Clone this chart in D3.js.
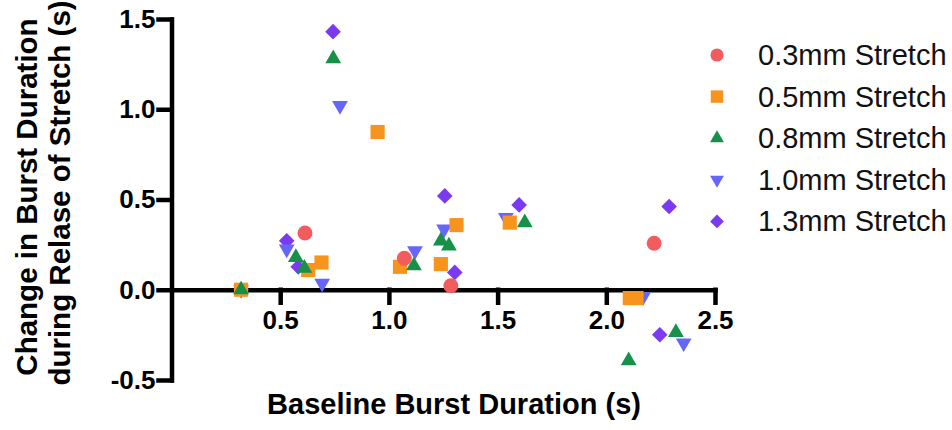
<!DOCTYPE html>
<html>
<head>
<meta charset="utf-8">
<script src="https://cdn.jsdelivr.net/npm/d3@7"></script>
<style>
  html, body { margin: 0; padding: 0; background: #ffffff; }
  svg { display: block; }
</style>
</head>
<body>
<svg id="chart" width="952" height="430"></svg>
<script>
// ---- Data ----
const seriesNames = ["0.3mm Stretch", "0.5mm Stretch", "0.8mm Stretch", "1.0mm Stretch", "1.3mm Stretch"];
const seriesColors = ["#F25C5E", "#F7941E", "#17904A", "#6666FA", "#7B3AF0"];
const seriesShapes = ["circle", "square", "triangle", "triangleDown", "diamond"];

const s03x = [0.614, 1.071, 1.285, 2.220];
const s03y = [0.314, 0.175, 0.022, 0.258];

const s05x = [0.320, 0.948, 0.629, 0.690, 1.051, 1.311, 1.239, 1.556, 2.108, 2.139];
const s05y = [0.000, 0.874, 0.109, 0.151, 0.127, 0.358, 0.142, 0.372, -0.046, -0.046];

const s08x = [0.320, 0.744, 0.572, 0.611, 1.115, 1.239, 1.276, 1.625, 2.320, 2.103];
const s08y = [0.000, 1.280, 0.179, 0.120, 0.133, 0.271, 0.243, 0.372, -0.236, -0.393];

const s10x = [0.320, 0.775, 0.530, 0.693, 1.120, 1.254, 1.538, 2.169, 2.356];
const s10y = [0.000, 1.020, 0.225, 0.035, 0.216, 0.336, 0.400, -0.039, -0.295];

const s13x = [0.320, 0.743, 0.530, 0.583, 1.257, 1.303, 1.599, 2.289, 2.246];
const s13y = [0.000, 1.430, 0.271, 0.127, 0.520, 0.096, 0.470, 0.461, -0.249];

const xTicks = [0.5, 1.0, 1.5, 2.0, 2.5];
const yTicks = [-0.5, 0.0, 0.5, 1.0, 1.5];

const xTitle = "Baseline Burst Duration (s)";
const yTitle1 = "Change in Burst Duration";
const yTitle2 = "during Relase of Stretch (s)";

// ---- Build ----
const seriesX = [s03x, s05x, s08x, s10x, s13x];
const seriesY = [s03y, s05y, s08y, s10y, s13y];
const series = seriesNames.map((name, i) => ({
  name, color: seriesColors[i], shape: seriesShapes[i],
  points: seriesX[i].map((x, j) => ({x, y: seriesY[i][j]}))
}));

const FONT = "'Liberation Sans', Arial, Helvetica, sans-serif";
const svg = d3.select("#chart");

const x = d3.scaleLinear().domain([0, 2.5]).range([171.5, 715]);
const y = d3.scaleLinear().domain([-0.5, 1.5]).range([380, 19]);

function symbolPath(shape) {
  switch (shape) {
    case "circle": return d3.symbol().type(d3.symbolCircle).size(175)();
    case "square": return d3.symbol().type(d3.symbolSquare).size(200)();
    case "triangle": return d3.symbol().type(d3.symbolTriangle).size(108)();
    case "triangleDown": return d3.symbol().type(d3.symbolTriangle).size(108)();
    case "diamond": return d3.symbol().type(d3.symbolSquare).size(122)();
  }
}
function symbolRotate(shape) {
  if (shape === "triangleDown") return 180;
  if (shape === "diamond") return 45;
  return 0;
}

// Axes
const yAxis = d3.axisLeft(y)
  .tickValues(yTicks)
  .tickFormat(d => d.toFixed(1))
  .tickSize(13)
  .tickSizeOuter(0)
  .tickPadding(3);

const xAxis = d3.axisBottom(x)
  .tickValues(xTicks)
  .tickFormat(d => d.toFixed(1))
  .tickSize(13)
  .tickSizeOuter(0)
  .tickPadding(8);

const gy = svg.append("g").attr("transform", "translate(" + x(0) + ",0)").call(yAxis);
const gx = svg.append("g").attr("transform", "translate(0," + y(0) + ")").call(xAxis);

[gx, gy].forEach(g => {
  g.select(".domain").attr("stroke", "#000").attr("stroke-width", 4.5).attr("stroke-linecap", "square");
  g.selectAll(".tick line").attr("stroke", "#000").attr("stroke-width", 4.5).attr("stroke-linecap", "square");
  g.selectAll(".tick text")
    .attr("fill", "#000")
    .style("font-family", FONT)
    .style("font-size", "26px")
    .style("font-weight", "bold");
});

// Points: draw order so overlaps match (purple, blue, orange, red, green)
const drawOrder = [4, 3, 1, 0, 2];
drawOrder.forEach(i => {
  const s = series[i];
  svg.append("g").selectAll("path")
    .data(s.points)
    .join("path")
    .attr("d", symbolPath(s.shape))
    .attr("transform", d => "translate(" + x(d.x) + "," + y(d.y) + ") rotate(" + symbolRotate(s.shape) + ")")
    .attr("fill", s.color);
});

// Legend
const legend = svg.append("g");
series.forEach((s, i) => {
  const cy = 55 + i * 41.6;
  legend.append("path")
    .attr("d", symbolPath(s.shape))
    .attr("transform", "translate(717," + cy + ") rotate(" + symbolRotate(s.shape) + ") scale(0.88)")
    .attr("fill", s.color);
  legend.append("text")
    .attr("x", 758)
    .attr("y", cy + 10)
    .attr("fill", "#111")
    .style("font-family", FONT)
    .style("font-size", "29px")
    .text(s.name);
});

// Axis titles
svg.append("text")
  .attr("x", 454)
  .attr("y", 414)
  .attr("text-anchor", "middle")
  .attr("fill", "#000")
  .style("font-family", FONT)
  .style("font-size", "29px")
  .style("font-weight", "bold")
  .text(xTitle);

svg.append("text")
  .attr("transform", "translate(37,197) rotate(-90)")
  .attr("text-anchor", "middle")
  .attr("fill", "#000")
  .style("font-family", FONT)
  .style("font-size", "29.5px")
  .style("font-weight", "bold")
  .text(yTitle1);

svg.append("text")
  .attr("transform", "translate(70,193) rotate(-90)")
  .attr("text-anchor", "middle")
  .attr("fill", "#000")
  .style("font-family", FONT)
  .style("font-size", "29.5px")
  .style("font-weight", "bold")
  .text(yTitle2);
</script>
</body>
</html>
